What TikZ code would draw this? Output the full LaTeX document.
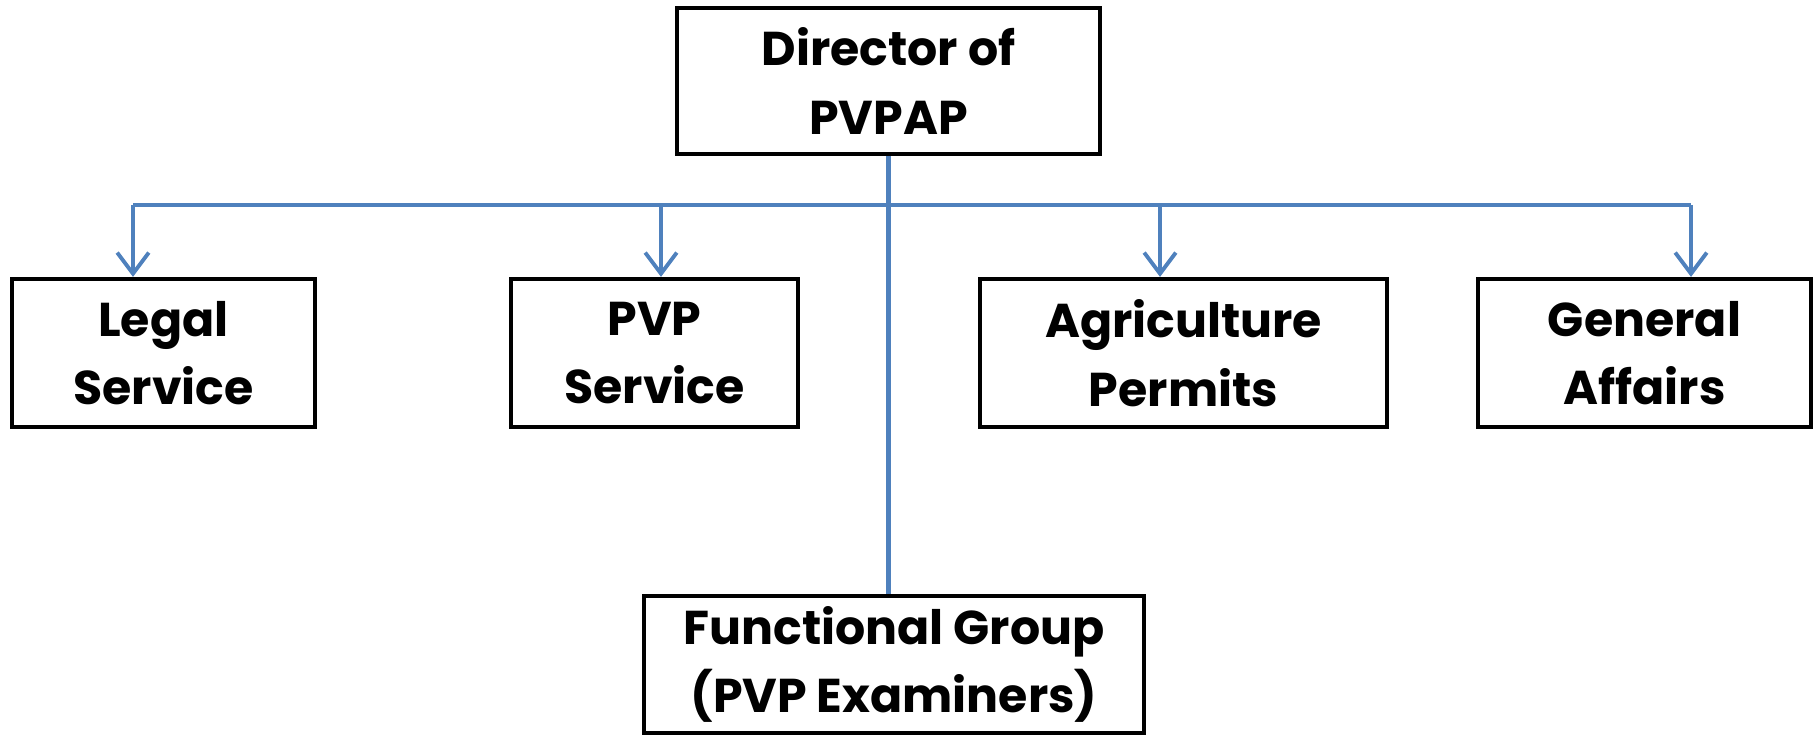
\documentclass[tikz,border=0pt]{standalone}
\usepackage{fontspec}
\setmainfont{Poppins}
\usetikzlibrary{arrows.meta}
\definecolor{linkblue}{RGB}{79,129,189}

\begin{document}
\begin{tikzpicture}[
		unit/.style={draw, line width=1.2pt, align=center, inner sep=0pt, minimum height=1.48cm, font=\fontsize{13.5}{19.5}\selectfont\bfseries},
		link/.style={draw=linkblue, line width=1.2pt},
		tip/.style={-{Straight Barb[length=6pt, width=9pt, line width=1.1pt]}}
	]
		\useasboundingbox (0, 0) rectangle (18.16, -7.36);
		
		\node [unit, minimum width=4.23cm, minimum height=1.46cm] (director) at (8.885, -0.81) {Director of\\PVPAP}; % Chefen
		
		\node [unit, minimum width=3.03cm] (legal) at (1.635, -3.53) {Legal\\Service};
		\node [unit, minimum width=2.87cm] (pvp) at (6.545, -3.53) {PVP\\Service};
		\node [unit, minimum width=4.07cm] (agri) at (11.835, -3.53) {Agriculture\\Permits};
		\node [unit, minimum width=3.33cm] (general) at (16.445, -3.53) {General\\Affairs};
		
		\node [unit, minimum width=5.00cm, minimum height=1.37cm] (functional) at (8.94, -6.645) {Functional Group\\(PVP Examiners)};
		
		\coordinate (busL) at (1.33, -2.05); % Samlingslinjen
		\coordinate (busR) at (16.91, -2.05);
		\draw [link] (busL) -- (busR);
		\draw [link] (director.south) -- (director.south |- functional.north);
		
		\foreach \x/\n in {1.33/legal, 6.61/pvp, 11.60/agri, 16.91/general}{
			\coordinate (tap\n) at (\x, -2.05);
			\draw [link, tip] (tap\n) -- (tap\n |- \n.north);
		}
	\end{tikzpicture}
\end{document}
